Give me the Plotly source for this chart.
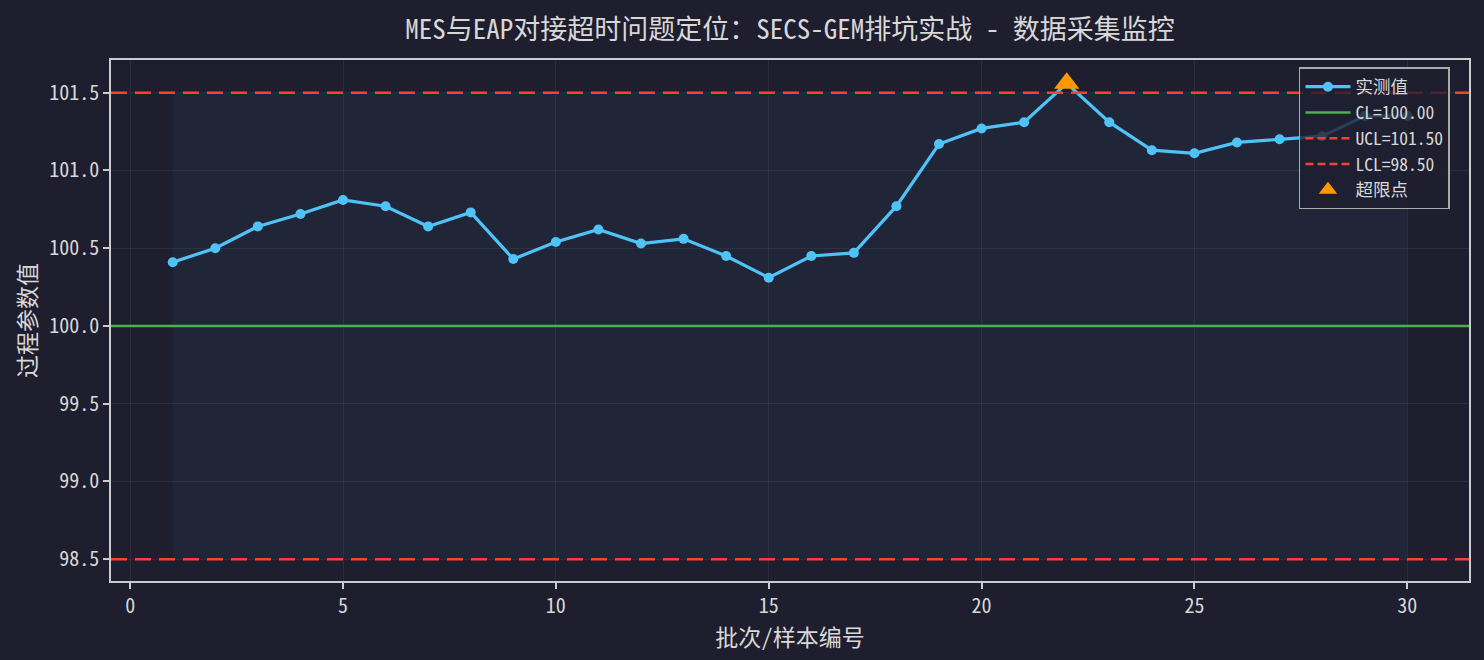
import plotly.graph_objects as go

samples = list(range(1, 31))
values = [100.41, 100.50, 100.64, 100.72, 100.81, 100.77, 100.64, 100.73, 100.43, 100.54,
          100.62, 100.53, 100.56, 100.45, 100.31, 100.45, 100.47, 100.77, 101.17, 101.27,
          101.31, 101.56, 101.31, 101.13, 101.11, 101.18, 101.20, 101.22, 101.35, 101.35]

CL = 100.00
UCL = 101.50
LCL = 98.50

# points outside the control limits
out_x = [x for x, v in zip(samples, values) if v > UCL or v < LCL]
out_y = [v for v in values if v > UCL or v < LCL]

x_ticks = [0, 5, 10, 15, 20, 25, 30]
y_ticks = [98.5, 99.0, 99.5, 100.0, 100.5, 101.0, 101.5]

BG = "#1e1e2e"
TXT = "#d8d8d8"
FONT = "Noto Sans Mono CJK SC, Noto Sans CJK SC, DejaVu Sans Mono, sans-serif"

fig = go.Figure()

# control band between LCL and UCL
fig.add_trace(go.Scatter(x=samples, y=[LCL] * len(samples), mode="lines",
                         line=dict(width=0), showlegend=False, hoverinfo="skip"))
fig.add_trace(go.Scatter(x=samples, y=[UCL] * len(samples), mode="lines",
                         line=dict(width=0), fill="tonexty",
                         fillcolor="rgba(79,195,247,0.05)",
                         showlegend=False, hoverinfo="skip"))

# horizontal reference lines
fig.add_hline(y=CL, line=dict(color="#4caf50", width=2.5))
fig.add_hline(y=UCL, line=dict(color="#f44336", width=2.5, dash="16px,8px"))
fig.add_hline(y=LCL, line=dict(color="#f44336", width=2.5, dash="16px,8px"))

fig.add_trace(go.Scatter(x=samples, y=values, mode="lines+markers", name="实测值",
                         line=dict(color="#4fc3f7", width=3.2),
                         marker=dict(color="#4fc3f7", size=10)))

# legend-only entries for the reference lines
fig.add_trace(go.Scatter(x=[None], y=[None], mode="lines", name=f"CL={CL:.2f}",
                         line=dict(color="#4caf50", width=2.5)))
fig.add_trace(go.Scatter(x=[None], y=[None], mode="lines", name=f"UCL={UCL:.2f}",
                         line=dict(color="#f44336", width=2.5, dash="8px,4px")))
fig.add_trace(go.Scatter(x=[None], y=[None], mode="lines", name=f"LCL={LCL:.2f}",
                         line=dict(color="#f44336", width=2.5, dash="8px,4px")))

fig.add_trace(go.Scatter(x=out_x, y=out_y, mode="markers", name="超限点",
                         marker=dict(symbol="triangle-up", color="#ff9800", size=22)))

fig.update_layout(
    width=1484, height=660,
    paper_bgcolor=BG, plot_bgcolor=BG,
    margin=dict(l=111, r=15, t=60, b=79),
    font=dict(family=FONT, color=TXT, size=20),
    title=dict(text="MES与EAP对接超时问题定位：SECS-GEM排坑实战 - 数据采集监控",
               x=0.5, xanchor="center", xref="paper",
               y=1 - 30 / 660, yanchor="middle", yref="container",
               font=dict(size=27, color=TXT)),
    legend=dict(x=0.8748, y=0.986, xanchor="left", yanchor="top",
                traceorder="normal", itemwidth=45,
                bgcolor="rgba(30,30,46,0.8)", bordercolor="#aaaaaa", borderwidth=1.5,
                font=dict(size=17.5, color=TXT), tracegroupgap=0),
    showlegend=True,
)

fig.update_xaxes(range=[-0.45, 31.45], tickvals=x_ticks, ticks="outside", ticklen=6,
                 tickcolor="#cccccc", tickwidth=1.5,
                 showline=True, mirror=True, linecolor="#cccccc", linewidth=1.5,
                 showgrid=True, gridcolor="rgba(255,255,255,0.06)", zeroline=False,
                 title=dict(text="批次/样本编号", font=dict(size=23), standoff=0))
fig.update_yaxes(range=[98.36, 101.71], tickvals=y_ticks, tickformat=".1f",
                 ticks="outside", ticklen=6, tickcolor="#cccccc", tickwidth=1.5,
                 showline=True, mirror=True, linecolor="#cccccc", linewidth=1.5,
                 showgrid=True, gridcolor="rgba(255,255,255,0.06)", zeroline=False,
                 title=dict(text="过程参数值", font=dict(size=23), standoff=6))

fig.write_html("out.html", config={"displayModeBar": False},
               post_script="document.body.style.margin='0';document.body.style.background='#1e1e2e';")
